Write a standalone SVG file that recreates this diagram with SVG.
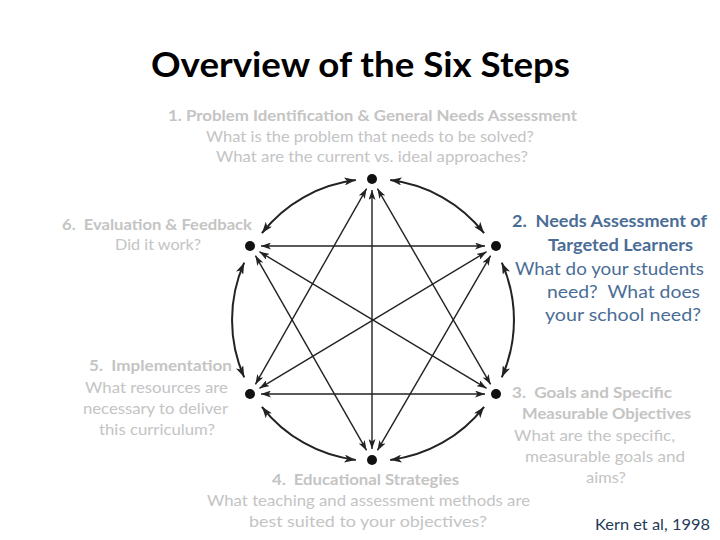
<svg xmlns="http://www.w3.org/2000/svg" width="720" height="540" viewBox="0 0 720 540">
<style>
text{font-family:Lato,"Open Sans","Liberation Sans",sans-serif;white-space:pre}
.title{font-size:34px;font-weight:bold;fill:#000}
.g{font-size:15px;fill:#c4c4c4}
.gb{font-size:15px;fill:#c4c4c4;font-weight:bold}
.b{font-size:17px;fill:#4a6d96}
.bb{font-size:17px;fill:#4a6d96;font-weight:bold}
.ref{font-size:16px;fill:#1f3b57}
.ch{stroke:#222;stroke-width:1.4;fill:none;marker-start:url(#ah);marker-end:url(#ah)}
.arc{stroke:#222;stroke-width:2;fill:none;marker-start:url(#ah2);marker-end:url(#ah2)}
.dot{fill:#111}
</style>
<defs>
<marker id="ah" markerUnits="userSpaceOnUse" viewBox="0 0 10 7" refX="10" refY="3.5" markerWidth="10" markerHeight="7" orient="auto-start-reverse">
<path d="M0,0 L10,3.5 L0,7 L2.5,3.5 z" fill="#222"/>
</marker>
<marker id="ah2" markerUnits="userSpaceOnUse" viewBox="0 0 10 7" refX="10" refY="3.5" markerWidth="12" markerHeight="8" orient="auto-start-reverse">
<path d="M0,0 L10,3.5 L0,7 L2.5,3.5 z" fill="#222"/>
</marker>
</defs>
<text class="title" x="151" y="77" textLength="419" lengthAdjust="spacingAndGlyphs">Overview of the Six Steps</text>
<g id="connectors">
<path class="ch" d="M372,190 L372,449"/>
<path class="ch" d="M261,246 L485,246"/>
<path class="ch" d="M261,394 L485,394"/>
<path class="ch" d="M366.6,188.6 L255.4,384.4"/>
<path class="ch" d="M377.4,188.6 L490.6,384.4"/>
<path class="ch" d="M255.4,255.6 L366.6,450.4"/>
<path class="ch" d="M490.6,255.6 L377.4,450.4"/>
<path class="ch" d="M259.4,251.7 L486.6,388.3"/>
<path class="ch" d="M486.6,251.7 L259.4,388.3"/>
<path class="arc" d="M390.2,180.1 A141,141 0 0 1 484.1,233.2"/>
<path class="arc" d="M501.8,262.7 A141,141 0 0 1 501.8,377.3"/>
<path class="arc" d="M484.1,406.8 A141,141 0 0 1 390.2,459.9"/>
<path class="arc" d="M355.8,459.9 A141,141 0 0 1 261.9,406.8"/>
<path class="arc" d="M244.2,377.3 A141,141 0 0 1 244.2,262.7"/>
<path class="arc" d="M261.9,233.2 A141,141 0 0 1 355.8,180.1"/>
</g>
<g id="step1">
<circle class="dot" cx="372" cy="179" r="5"/>
<text class="gb" x="168" y="121" textLength="409" lengthAdjust="spacingAndGlyphs">1. Problem Identification &amp; General Needs Assessment</text>
<text class="g" x="206" y="142" textLength="328" lengthAdjust="spacingAndGlyphs">What is the problem that needs to be solved?</text>
<text class="g" x="216" y="162" textLength="312" lengthAdjust="spacingAndGlyphs">What are the current vs. ideal approaches?</text>
</g>
<g id="step2">
<circle class="dot" cx="496" cy="246" r="5"/>
<text class="bb" x="512" y="227" textLength="195" lengthAdjust="spacingAndGlyphs">2.  Needs Assessment of</text>
<text class="bb" x="548" y="251" textLength="145" lengthAdjust="spacingAndGlyphs">Targeted Learners</text>
<text class="b" x="515" y="275" textLength="189" lengthAdjust="spacingAndGlyphs">What do your students</text>
<text class="b" x="547" y="298" textLength="153" lengthAdjust="spacingAndGlyphs">need?  What does</text>
<text class="b" x="545" y="321" textLength="156" lengthAdjust="spacingAndGlyphs">your school need?</text>
</g>
<g id="step3">
<circle class="dot" cx="496" cy="394" r="5"/>
<text class="gb" x="512" y="398" textLength="160" lengthAdjust="spacingAndGlyphs">3.  Goals and Specific</text>
<text class="gb" x="522" y="419" textLength="169" lengthAdjust="spacingAndGlyphs">Measurable Objectives</text>
<text class="g" x="514" y="441" textLength="161" lengthAdjust="spacingAndGlyphs">What are the specific,</text>
<text class="g" x="525" y="462" textLength="160" lengthAdjust="spacingAndGlyphs">measurable goals and</text>
<text class="g" x="586" y="483" textLength="40" lengthAdjust="spacingAndGlyphs">aims?</text>
</g>
<g id="step4">
<circle class="dot" cx="372" cy="460" r="5"/>
<text class="gb" x="272" y="485" textLength="187" lengthAdjust="spacingAndGlyphs">4.  Educational Strategies</text>
<text class="g" x="207" y="506" textLength="323" lengthAdjust="spacingAndGlyphs">What teaching and assessment methods are</text>
<text class="g" x="249" y="527" textLength="238" lengthAdjust="spacingAndGlyphs">best suited to your objectives?</text>
</g>
<g id="step5">
<circle class="dot" cx="250" cy="394" r="5"/>
<text class="gb" x="89" y="371" textLength="143" lengthAdjust="spacingAndGlyphs">5.  Implementation</text>
<text class="g" x="85" y="393" textLength="143" lengthAdjust="spacingAndGlyphs">What resources are</text>
<text class="g" x="83" y="414" textLength="145" lengthAdjust="spacingAndGlyphs">necessary to deliver</text>
<text class="g" x="99" y="435" textLength="116" lengthAdjust="spacingAndGlyphs">this curriculum?</text>
</g>
<g id="step6">
<circle class="dot" cx="250" cy="246" r="5"/>
<text class="gb" x="62" y="230" textLength="190" lengthAdjust="spacingAndGlyphs">6.  Evaluation &amp; Feedback</text>
<text class="g" x="115" y="250" textLength="86" lengthAdjust="spacingAndGlyphs">Did it work?</text>
</g>
<text class="ref" x="595" y="530" textLength="115" lengthAdjust="spacingAndGlyphs">Kern et al, 1998</text>
</svg>
